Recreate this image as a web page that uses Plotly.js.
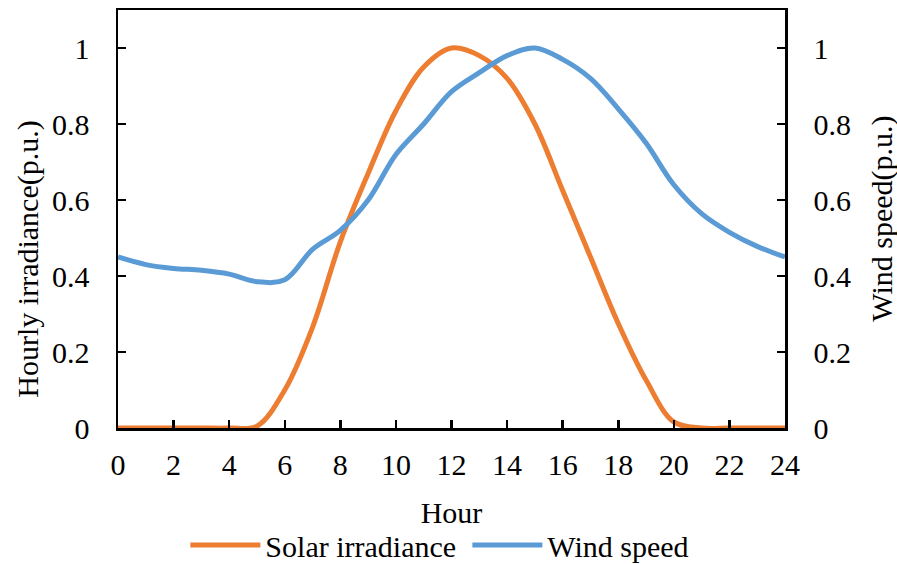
<!DOCTYPE html>
<html>
<head>
<meta charset="utf-8">
<script src="https://cdn.plot.ly/plotly-3.0.1.min.js"></script>
<style>html,body{margin:0;padding:0;background:#fff;}#chart{width:897px;height:564px;}</style>
</head>
<body>
<div id="chart"></div>
<script>
const hours = [0,1,2,3,4,5,6,7,8,9,10,11,12,13,14,15,16,17,18,19,20,21,22,23,24];
const solarIrradiance = [0,0,0,0,0,0.005,0.1,0.265,0.49,0.67,0.835,0.95,1.0,0.98,0.92,0.80,0.625,0.45,0.275,0.126,0.016,0,0,0,0];
const windSpeed = [0.45,0.43,0.42,0.415,0.405,0.385,0.39,0.47,0.52,0.6,0.72,0.8,0.885,0.935,0.98,1.0,0.97,0.92,0.84,0.75,0.64,0.564,0.515,0.478,0.45];
const xTicks = [0,2,4,6,8,10,12,14,16,18,20,22,24];
const yTicks = [0,0.2,0.4,0.6,0.8,1];
const yTickText = ['0','0.2','0.4','0.6','0.8','1'];
const seriesNames = ['Solar irradiance','Wind speed'];
const leftTitle = 'Hourly irradiance(p.u.)';
const rightTitle = 'Wind speed(p.u.)';
const xTitle = 'Hour';

const FONT = 'Liberation Serif, Times New Roman, serif';
const FS = 30;

const traces = [
  {x: hours, y: solarIrradiance, name: seriesNames[0], type: 'scatter', mode: 'lines',
   line: {color: '#ED7D31', width: 5, shape: 'spline', smoothing: 1}, yaxis: 'y'},
  {x: hours, y: windSpeed, name: seriesNames[1], type: 'scatter', mode: 'lines',
   line: {color: '#5B9BD5', width: 5, shape: 'spline', smoothing: 1}, yaxis: 'y2'}
];

const axisCommon = {
  showgrid: false, zeroline: false, showline: true, linecolor: '#000', linewidth: 2.5,
  ticks: 'inside', ticklen: 8, tickwidth: 2.5, tickcolor: '#000',
  tickfont: {family: FONT, size: FS, color: '#000'}, automargin: false
};

const layout = {
  width: 897, height: 564,
  margin: {l: 118, r: 112, t: 10, b: 136, pad: 0, autoexpand: false},
  paper_bgcolor: '#fff', plot_bgcolor: '#fff',
  font: {family: FONT, size: FS, color: '#000'},
  xaxis: Object.assign({}, axisCommon, {
    range: [0, 24], tickvals: xTicks, mirror: true, ticklabelstandoff: 8,
    title: {text: xTitle, font: {family: FONT, size: FS, color: '#000'}, standoff: 23}
  }),
  yaxis: Object.assign({}, axisCommon, {
    range: [0, 1.1], tickvals: yTicks, ticktext: yTickText, ticklabelstandoff: 20
  }),
  yaxis2: Object.assign({}, axisCommon, {
    range: [0, 1.1], tickvals: yTicks, ticktext: yTickText, ticklabelstandoff: 20,
    overlaying: 'y', side: 'right'
  }),
  showlegend: true,
  legend: {orientation: 'h', x: 0.101, xanchor: 'left', y: -0.28, yanchor: 'middle',
    font: {family: FONT, size: FS, color: '#000'}, itemwidth: 70,
    entrywidth: 197, entrywidthmode: 'pixels'},
  annotations: [
    {text: leftTitle, xref: 'paper', yref: 'paper', x: -0.135, y: 0.405, textangle: -90,
     showarrow: false, xanchor: 'center', yanchor: 'middle', font: {family: FONT, size: FS, color: '#000'}},
    {text: rightTitle, xref: 'paper', yref: 'paper', x: 1.145, y: 0.5, textangle: -90,
     showarrow: false, xanchor: 'center', yanchor: 'middle', font: {family: FONT, size: FS, color: '#000'}}
  ]
};

Plotly.newPlot('chart', traces, layout, {displayModeBar: false, staticPlot: true});
</script>
</body>
</html>
